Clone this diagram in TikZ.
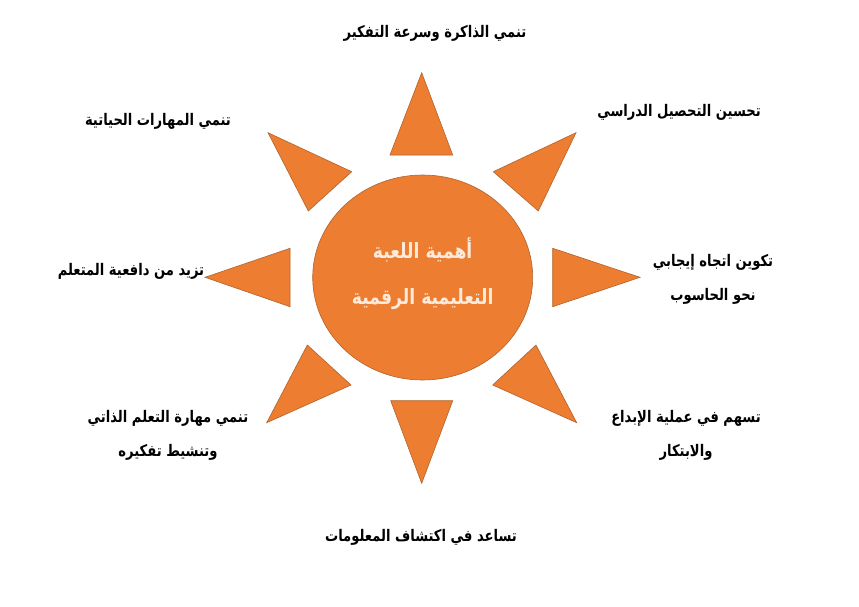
\documentclass[tikz,border=0pt]{standalone}
\usepackage{fontspec}
\TeXXeTstate=1
\newfontfamily\arabicfont[Script=Arabic,FakeStretch=0.82]{DejaVu Sans}
\definecolor{sunorange}{HTML}{ED7D31}
\definecolor{sunedge}{HTML}{B0642C}
\definecolor{suntext}{HTML}{FCEBDD}
\usetikzlibrary{shapes.geometric}
\tikzset{
  ray/.style={fill=sunorange, draw=sunedge, line width=0.6pt, line join=miter},
  sunbody/.style={ellipse, fill=sunorange, draw=sunedge, line width=0.6pt, minimum width=220pt, minimum height=205pt, inner sep=0pt},
  label/.style={font=\arabicfont\bfseries\fontsize{16}{34}\selectfont, text=black, align=center, inner sep=0pt},
  centertext/.style={font=\arabicfont\bfseries\fontsize{21}{46}\selectfont, text=suntext, align=center, inner sep=0pt}
}
\begin{document}
\begin{tikzpicture}[x=1pt,y=-1pt]
\useasboundingbox[fill=white] (0,0) rectangle (859,606);
% rays
\draw[ray] (421.7,72.7) -- (390,155) -- (452.7,155) -- cycle;
\draw[ray] (421.7,483.3) -- (390.7,400.7) -- (452.7,400.7) -- cycle;
\draw[ray] (640,277.3) -- (552.7,248.3) -- (552.7,306.7) -- cycle;
\draw[ray] (205,277.3) -- (290,248.3) -- (290,306.7) -- cycle;
\draw[ray] (576,132.7) -- (493.3,171.7) -- (538.3,211) -- cycle;
\draw[ray] (268,132.7) -- (351.7,171.7) -- (308.3,211) -- cycle;
\draw[ray] (576.7,422.7) -- (492.7,385) -- (536,345) -- cycle;
\draw[ray] (266.7,422.7) -- (351,385) -- (307.3,345) -- cycle;
% center
\node[sunbody] (sun) at (422.7,277.5) {};
\node[centertext] (title) at (422.7,274) {\beginR أهمية اللعبة\endR\\\beginR التعليمية الرقمية\endR};
% labels
\node[label] (top) at (435,33) {\beginR تنمي الذاكرة وسرعة التفكير\endR};
\node[label] (ur) at (679,112) {\beginR تحسين التحصيل الدراسي\endR};
\node[label] (r) at (713,279) {\beginR تكوين اتجاه إيجابي\endR\\\beginR نحو الحاسوب\endR};
\node[label] (lr) at (686,435) {\beginR تسهم في عملية الإبداع\endR\\\beginR والابتكار\endR};
\node[label] (bot) at (421,537) {\beginR تساعد في اكتشاف المعلومات\endR};
\node[label] (ll) at (168,435) {\beginR تنمي مهارة التعلم الذاتي\endR\\\beginR وتنشيط تفكيره\endR};
\node[label] (l) at (131,271) {\beginR تزيد من دافعية المتعلم\endR};
\node[label] (ul) at (158,121) {\beginR تنمي المهارات الحياتية\endR};
\end{tikzpicture}
\end{document}
